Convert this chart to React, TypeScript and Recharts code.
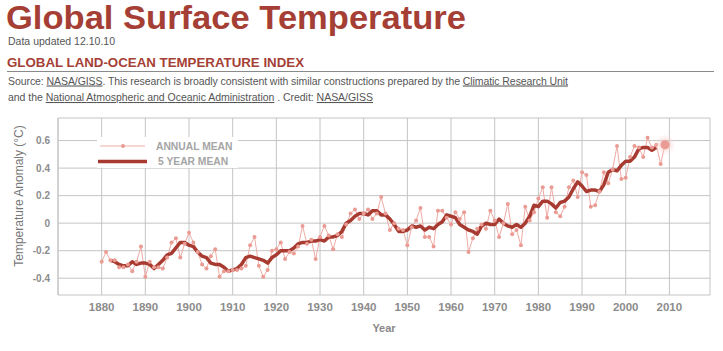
import React from 'react'
import { LineChart, Line, XAxis, YAxis, CartesianGrid } from 'recharts'

const FIRST_YEAR = 1880

// GISS annual mean anomaly, 1880-2009 (°C)
const annualMean = [
  -0.28, -0.21, -0.27, -0.27, -0.32, -0.32, -0.30, -0.35, -0.28, -0.17,
  -0.39, -0.28, -0.32, -0.32, -0.33, -0.25, -0.14, -0.11, -0.25, -0.15,
  -0.07, -0.14, -0.21, -0.30, -0.33, -0.24, -0.19, -0.39, -0.35, -0.35,
  -0.34, -0.34, -0.33, -0.31, -0.16, -0.10, -0.31, -0.39, -0.34, -0.20,
  -0.19, -0.14, -0.26, -0.21, -0.22, -0.17, -0.02, -0.15, -0.12, -0.26,
  -0.10, -0.02, -0.09, -0.19, -0.08, -0.10, -0.01, 0.07, 0.10, 0.03,
  0.07, 0.10, 0.03, 0.07, 0.19, 0.07, -0.05, 0.00, -0.04, -0.05,
  -0.16, -0.03, 0.02, 0.11, -0.10, -0.10, -0.17, 0.09, 0.09, 0.04,
  -0.01, 0.08, 0.03, 0.08, -0.21, -0.11, -0.04, -0.01, -0.04, 0.09,
  0.02, -0.10, 0.00, 0.14, -0.08, -0.05, -0.16, 0.12, 0.02, 0.08,
  0.18, 0.26, 0.04, 0.26, 0.08, 0.05, 0.12, 0.26, 0.31, 0.19,
  0.37, 0.35, 0.12, 0.13, 0.23, 0.37, 0.29, 0.39, 0.56, 0.32,
  0.33, 0.48, 0.56, 0.55, 0.48, 0.62, 0.55, 0.57, 0.43, 0.57,
]

// 5 year mean, 1882-2007
const FIVE_YEAR_START = 1882
const fiveYearMean = [
  -0.27, -0.28, -0.30, -0.31, -0.31, -0.28, -0.30, -0.29,
  -0.29, -0.30, -0.33, -0.30, -0.27, -0.23, -0.22, -0.18, -0.14, -0.14,
  -0.16, -0.17, -0.21, -0.24, -0.25, -0.29, -0.30, -0.30, -0.32, -0.35,
  -0.34, -0.33, -0.30, -0.25, -0.24, -0.25, -0.26, -0.27, -0.29, -0.25,
  -0.23, -0.20, -0.20, -0.20, -0.18, -0.15, -0.14, -0.14, -0.13, -0.13,
  -0.12, -0.13, -0.10, -0.10, -0.09, -0.06, 0.00, 0.02, 0.05, 0.07,
  0.07, 0.06, 0.09, 0.09, 0.06, 0.06, 0.03, -0.01, -0.06, -0.06,
  -0.05, -0.02, -0.03, -0.02, -0.05, -0.03, -0.04, -0.01, 0.01, 0.06,
  0.05, 0.04, -0.01, -0.03, -0.05, -0.06, -0.08, -0.02, 0.00, -0.01,
  -0.01, 0.03, 0.00, -0.02, -0.03, -0.01, -0.03, 0.00, 0.05, 0.13,
  0.12, 0.16, 0.16, 0.14, 0.11, 0.15, 0.16, 0.19, 0.25, 0.30,
  0.27, 0.23, 0.24, 0.24, 0.23, 0.28, 0.37, 0.39, 0.38, 0.42,
  0.45, 0.45, 0.48, 0.54, 0.55, 0.55, 0.53, 0.55,
]

const yearTicks = [1880, 1890, 1900, 1910, 1920, 1930, 1940, 1950, 1960, 1970, 1980, 1990, 2000, 2010]
const tempTicks = [-0.4, -0.2, 0, 0.2, 0.4, 0.6]

const data = annualMean.map((v, i) => {
  const year = FIRST_YEAR + i
  const k = year - FIVE_YEAR_START
  return {
    year,
    annual: v,
    fiveYear: k >= 0 && k < fiveYearMean.length ? fiveYearMean[k] : null,
  }
})

const FONT = '"Liberation Sans", Arial, Helvetica, sans-serif'
const RED = '#a53f36'
const DARK_LINE = '#a83b31'
const PINK_LINE = '#efaba4'
const PINK_DOT = '#ea9b93'
const GRID = '#c4c4c4'

const AnnualDot = (props: any) => {
  const { cx, cy, index } = props
  if (cx == null || cy == null) return <g key={`d-${index}`} />
  if (index === annualMean.length - 1) {
    return (
      <g key={`d-${index}`}>
        <circle cx={cx} cy={cy} r={11} fill="url(#glow)" />
        <circle cx={cx} cy={cy} r={4.5} fill={PINK_DOT} />
      </g>
    )
  }
  return <circle key={`d-${index}`} cx={cx} cy={cy} r={2} fill={PINK_DOT} />
}

export default function App() {
  return (
    <div style={{ position: 'absolute', left: 0, top: 0, width: 723, height: 351, background: '#fff', fontFamily: FONT }}>
      <LineChart
        width={723}
        height={351}
        data={data}
        margin={{ top: 118, right: 13, bottom: 26, left: 8 }}
      >
        <defs>
          <radialGradient id="glow">
            <stop offset="0%" stopColor="#f4b8b2" stopOpacity={0.9} />
            <stop offset="100%" stopColor="#fbe4e1" stopOpacity={0} />
          </radialGradient>
        </defs>
        <CartesianGrid stroke={GRID} />
        <XAxis
          dataKey="year"
          type="number"
          domain={[1870, 2019.3]}
          ticks={yearTicks}
          height={30}
          axisLine={false}
          tickLine={false}
          tick={{ fontSize: 11.5, fontWeight: 'bold', fill: '#8c8c8c', fontFamily: FONT }}
        />
        <YAxis
          type="number"
          domain={[-0.522, 0.764]}
          ticks={tempTicks}
          width={50}
          allowDataOverflow
          axisLine={{ stroke: GRID }}
          tickLine={false}
          tickFormatter={(v: number) => String(Math.round(v * 10) / 10)}
          tick={{ fontSize: 10, fontWeight: 'bold', fill: '#8c8c8c', fontFamily: FONT }}
        />
        <Line
          type="linear"
          dataKey="annual"
          stroke={PINK_LINE}
          strokeWidth={1}
          dot={AnnualDot}
          activeDot={false}
          isAnimationActive={false}
        />
        <Line
          type="linear"
          dataKey="fiveYear"
          stroke={DARK_LINE}
          strokeWidth={3.5}
          strokeLinejoin="round"
          dot={false}
          activeDot={false}
          isAnimationActive={false}
        />
      </LineChart>

      <svg
        width={723}
        height={351}
        style={{ position: 'absolute', left: 0, top: 0, pointerEvents: 'none' }}
        fontFamily={FONT}
      >
        <text x={6} y={29} fontSize={33} fontWeight="bold" fill={RED} textLength={460} lengthAdjust="spacingAndGlyphs">
          Global Surface Temperature
        </text>
        <text x={8} y={45} fontSize={10.5} fill="#555" textLength={107}>
          Data updated 12.10.10
        </text>
        <text x={7} y={66.5} fontSize={13} fontWeight="bold" fill={RED} textLength={297} lengthAdjust="spacingAndGlyphs">
          GLOBAL LAND-OCEAN TEMPERATURE INDEX
        </text>
        <line x1={7} x2={714} y1={71.5} y2={71.5} stroke="#8a8a8a" strokeWidth={1} />
        <text x={8} y={84.5} fontSize={10.5} fill="#555" textLength={560}>
          Source: <tspan textDecoration="underline">NASA/GISS</tspan>. This research is broadly consistent with similar constructions prepared by the <tspan textDecoration="underline">Climatic Research Unit</tspan>
        </text>
        <text x={8} y={101} fontSize={10.5} fill="#555" textLength={365}>
          and the <tspan textDecoration="underline">National Atmospheric and Oceanic Administration</tspan> . Credit: <tspan textDecoration="underline">NASA/GISS</tspan>
        </text>

        <text
          transform="translate(18.5,196) rotate(-90)"
          textAnchor="middle"
          dominantBaseline="central"
          fontSize={12}
          fill="#777"
        >
          Temperature Anomaly (°C)
        </text>
        <text x={384} y={332} textAnchor="middle" fontSize={11} fontWeight="bold" fill="#888">
          Year
        </text>

        <rect x={97} y={137} width={141} height={31} fill="#fff" />
        <line x1={100} x2={145} y1={146} y2={146} stroke={PINK_LINE} strokeWidth={1} />
        <circle cx={123} cy={146} r={2} fill={PINK_DOT} />
        <text x={156} y={149.7} fontSize={10.3} fontWeight="bold" fill="#a5a5a5">
          ANNUAL MEAN
        </text>
        <line x1={98} x2={147} y1={161.5} y2={161.5} stroke={DARK_LINE} strokeWidth={3.5} />
        <text x={158} y={165.2} fontSize={10.3} fontWeight="bold" fill="#a5a5a5">
          5 YEAR MEAN
        </text>
      </svg>
    </div>
  )
}
